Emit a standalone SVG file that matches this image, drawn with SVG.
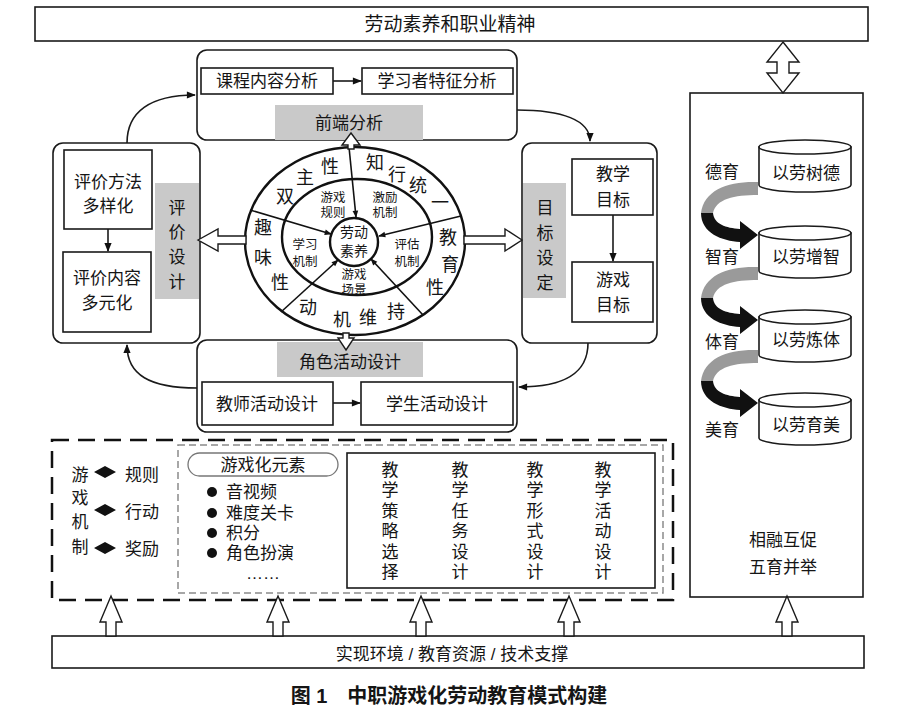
<svg xmlns="http://www.w3.org/2000/svg" width="900" height="713" viewBox="0 0 900 713">
<style>
.t{font-family:"Liberation Sans","Noto Sans CJK SC",sans-serif;font-size:17px;fill:#151515;text-anchor:middle;dominant-baseline:central}
.s{font-size:12.5px}
.r{font-size:18px}
.b{fill:#fff;stroke:#1a1a1a;stroke-width:1.6}
.g{fill:#c9c9c9;stroke:none}
.ln{fill:none;stroke:#1a1a1a;stroke-width:1.6}
.ha{fill:#fff;stroke:#1a1a1a;stroke-width:1.4;stroke-linejoin:miter}
</style>
<defs>
<marker id="ah" viewBox="0 0 10 10" refX="9" refY="5" markerWidth="10" markerHeight="9" markerUnits="userSpaceOnUse" orient="auto"><path d="M0,1 L10,5 L0,9 Z" fill="#111"/></marker>
<marker id="as" viewBox="0 0 10 10" refX="9" refY="5" markerWidth="8" markerHeight="7" markerUnits="userSpaceOnUse" orient="auto"><path d="M0,1 L10,5 L0,9 Z" fill="#111"/></marker>
<g id="curl">
<path d="M758,182 C728,181 704,190 701,213 L713,213 C716,199 734,195 758,195 Z" fill="#9a9a9a"/>
<path d="M701,213 C701,233 722,241 740,242 L740,249 L758,235 L740,221 L740,229 C726,228 714,224 713,213 Z" fill="#111"/>
</g>
</defs>

<g id="top-bar">
<rect class="b" x="35" y="7" width="833" height="34"/>
<text class="t" x="450" y="24" style="font-size:19px">劳动素养和职业精神</text>
</g>

<g id="front-analysis">
<rect class="b" x="197" y="50" width="320" height="90" rx="10"/>
<rect class="b" x="201" y="68" width="132" height="26"/>
<text class="t" x="267" y="81">课程内容分析</text>
<rect class="b" x="362" y="68" width="151" height="26"/>
<text class="t" x="437" y="81">学习者特征分析</text>
<rect class="g" x="275" y="105" width="148" height="35"/>
<text class="t" x="349" y="123">前端分析</text>
</g>

<g id="evaluation">
<rect class="b" x="53" y="143" width="147" height="200" rx="10"/>
<rect class="b" x="64" y="150" width="88" height="79"/>
<text class="t" x="108" y="182">评价方法</text>
<text class="t" x="108" y="206">多样化</text>
<rect class="b" x="63" y="252" width="88" height="80"/>
<text class="t" x="107" y="278">评价内容</text>
<text class="t" x="107" y="303">多元化</text>
<rect class="g" x="155" y="183" width="44" height="116"/>
<text class="t" x="177" y="208">评</text>
<text class="t" x="177" y="232">价</text>
<text class="t" x="177" y="257">设</text>
<text class="t" x="177" y="282">计</text>
</g>

<g id="goal">
<rect class="b" x="522" y="143" width="135" height="200" rx="10"/>
<rect class="g" x="523" y="183" width="43" height="115"/>
<text class="t" x="545" y="208">目</text>
<text class="t" x="545" y="233">标</text>
<text class="t" x="545" y="258">设</text>
<text class="t" x="545" y="283">定</text>
<rect class="b" x="572" y="159" width="81" height="56"/>
<text class="t" x="613" y="174">教学</text>
<text class="t" x="613" y="200">目标</text>
<rect class="b" x="572" y="262" width="81" height="60"/>
<text class="t" x="613" y="280">游戏</text>
<text class="t" x="613" y="305">目标</text>
</g>

<g id="role-design">
<rect class="b" x="197" y="340" width="320" height="92" rx="10"/>
<rect class="g" x="277" y="342" width="146" height="35"/>
<text class="t" x="350" y="362">角色活动设计</text>
<rect class="b" x="202" y="382" width="131" height="43"/>
<text class="t" x="267" y="404">教师活动设计</text>
<rect class="b" x="361" y="382" width="152" height="43"/>
<text class="t" x="437" y="404">学生活动设计</text>
</g>

<g id="core-ellipse">
<ellipse cx="355" cy="241" rx="110" ry="94" fill="#fff" stroke="#111" stroke-width="2.4"/>
<ellipse cx="357" cy="237" rx="75" ry="58" fill="none" stroke="#111" stroke-width="2.4"/>
<ellipse cx="354" cy="242" rx="24" ry="24" fill="#fff" stroke="#111" stroke-width="2.4"/>
<text class="t" x="354" y="232" style="font-size:14px">劳动</text>
<text class="t" x="354" y="251" style="font-size:14px">素养</text>
<text class="t s" x="333" y="198">游戏</text>
<text class="t s" x="333" y="213">规则</text>
<text class="t s" x="385" y="198">激励</text>
<text class="t s" x="385" y="213">机制</text>
<text class="t s" x="305" y="245">学习</text>
<text class="t s" x="305" y="262">机制</text>
<text class="t s" x="407" y="245">评估</text>
<text class="t s" x="407" y="262">机制</text>
<text class="t s" x="354" y="275">游戏</text>
<text class="t s" x="354" y="290">场景</text>
<text class="t r" x="285" y="197">双</text>
<text class="t r" x="305" y="178">主</text>
<text class="t r" x="330" y="167">性</text>
<text class="t r" x="375" y="163">知</text>
<text class="t r" x="397" y="175">行</text>
<text class="t r" x="418" y="186">统</text>
<text class="t r" x="440" y="203">一</text>
<text class="t r" x="448" y="238">教</text>
<text class="t r" x="450" y="265">育</text>
<text class="t r" x="435" y="288">性</text>
<text class="t r" x="308" y="308">动</text>
<text class="t r" x="342" y="320">机</text>
<text class="t r" x="368" y="318">维</text>
<text class="t r" x="396" y="312">持</text>
<text class="t r" x="263" y="228">趣</text>
<text class="t r" x="263" y="258">味</text>
<text class="t r" x="280" y="283">性</text>
</g>

<g id="mechanism">
<text class="t" x="80" y="475">游</text>
<text class="t" x="80" y="498">戏</text>
<text class="t" x="80" y="522">机</text>
<text class="t" x="80" y="547">制</text>
<path d="M94,472 L105,466 L116,472 L105,478 Z M94,510 L105,504 L116,510 L105,516 Z M94,548 L105,542 L116,548 L105,554 Z" fill="#111"/>
<text class="t" x="142" y="475">规则</text>
<text class="t" x="142" y="512">行动</text>
<text class="t" x="142" y="549">奖励</text>
</g>

<g id="gamify-elements">
<rect x="188" y="453" width="150" height="23" rx="11.5" fill="#fff" stroke="#777" stroke-width="1.3"/>
<text class="t" x="263" y="465">游戏化元素</text>
<g fill="#111"><circle cx="212" cy="492" r="5"/><circle cx="212" cy="513" r="5"/><circle cx="212" cy="533" r="5"/><circle cx="212" cy="553" r="5"/></g>
<text class="t" x="226" y="492" style="text-anchor:start">音视频</text>
<text class="t" x="226" y="513" style="text-anchor:start">难度关卡</text>
<text class="t" x="226" y="533" style="text-anchor:start">积分</text>
<text class="t" x="226" y="553" style="text-anchor:start">角色扮演</text>
<text class="t" x="263" y="573">……</text>
</g>

<g id="teaching-design">
<rect class="b" x="347" y="453" width="308" height="135" stroke-width="2"/>
<text class="t" x="390" y="470">教</text><text class="t" x="390" y="490">学</text><text class="t" x="390" y="511">策</text><text class="t" x="390" y="531">略</text><text class="t" x="390" y="552">选</text><text class="t" x="390" y="572">择</text>
<text class="t" x="460" y="470">教</text><text class="t" x="460" y="490">学</text><text class="t" x="460" y="511">任</text><text class="t" x="460" y="531">务</text><text class="t" x="460" y="552">设</text><text class="t" x="460" y="572">计</text>
<text class="t" x="535" y="470">教</text><text class="t" x="535" y="490">学</text><text class="t" x="535" y="511">形</text><text class="t" x="535" y="531">式</text><text class="t" x="535" y="552">设</text><text class="t" x="535" y="572">计</text>
<text class="t" x="603" y="470">教</text><text class="t" x="603" y="490">学</text><text class="t" x="603" y="511">活</text><text class="t" x="603" y="531">动</text><text class="t" x="603" y="552">设</text><text class="t" x="603" y="572">计</text>
</g>

<g id="dashed-frames">
<rect x="178" y="445" width="485" height="148" fill="none" stroke="#8a8a8a" stroke-width="1.5" stroke-dasharray="7 4"/>
<rect x="52" y="440" width="621" height="160" fill="none" stroke="#111" stroke-width="2.5" stroke-dasharray="17 9"/>
</g>

<g id="five-edu">
<rect class="b" x="690" y="93" width="173" height="504"/>
<g id="cyl1"><path class="b" d="M759,147 L759,185 A46,7 0 0 0 851,185 L851,147 Z"/><ellipse class="b" cx="805" cy="147" rx="46" ry="7"/><text class="t" x="806" y="173">以劳树德</text></g>
<g id="cyl2"><path class="b" d="M759,233 L759,271 A46,7 0 0 0 851,271 L851,233 Z"/><ellipse class="b" cx="805" cy="233" rx="46" ry="7"/><text class="t" x="806" y="257">以劳增智</text></g>
<g id="cyl3"><path class="b" d="M759,317 L759,355 A46,7 0 0 0 851,355 L851,317 Z"/><ellipse class="b" cx="805" cy="317" rx="46" ry="7"/><text class="t" x="806" y="340">以劳炼体</text></g>
<g id="cyl4"><path class="b" d="M759,400 L759,438 A46,7 0 0 0 851,438 L851,400 Z"/><ellipse class="b" cx="805" cy="400" rx="46" ry="7"/><text class="t" x="806" y="425">以劳育美</text></g>
<text class="t" x="722" y="172">德育</text>
<text class="t" x="722" y="257">智育</text>
<text class="t" x="722" y="342">体育</text>
<text class="t" x="722" y="430">美育</text>
<use href="#curl"/>
<use href="#curl" transform="translate(0,85)"/>
<use href="#curl" transform="translate(0,168)"/>
<text class="t" x="783" y="540">相融互促</text>
<text class="t" x="783" y="567">五育并举</text>
</g>

<g id="support-bar">
<rect class="b" x="52" y="636" width="812" height="32"/>
<text class="t" x="452" y="654">实现环境 / 教育资源 / 技术支撑</text>
</g>

<g id="connectors">
<path class="ln" d="M127,143 C127,112 150,95 195,95" marker-end="url(#ah)"/>
<path class="ln" d="M517,110 C562,110 590,120 590,141" marker-end="url(#ah)"/>
<path class="ln" d="M588,343 C588,375 562,387 519,387" marker-end="url(#ah)"/>
<path class="ln" d="M197,388 C150,388 127,375 127,345" marker-end="url(#ah)"/>
<path class="ln" d="M333,81 L361,81" marker-end="url(#ah)"/>
<path class="ln" d="M613,215 L613,261" marker-end="url(#ah)"/>
<path class="ln" d="M108,229 L108,251" marker-end="url(#ah)"/>
<path class="ln" d="M333,403 L360,403" marker-end="url(#ah)"/>
<g stroke="#111" stroke-width="1.6" fill="none">
<path d="M349,147 L356,217" marker-end="url(#as)"/>
<path d="M250,210 L331,234" marker-end="url(#as)"/>
<path d="M461,216 L379,236" marker-end="url(#as)"/>
<path d="M281,312 L338,260" marker-end="url(#as)"/>
<path d="M423,315 L371,259" marker-end="url(#as)"/>
</g>
<polygon class="ha" points="198,240 218,229 218,236 246,236 246,244 218,244 218,251"/>
<polygon class="ha" points="522,240 505,229 505,236 464,236 464,244 505,244 505,251"/>
<polygon class="ha" points="351,133 360,145 354,145 354,149 348,149 348,145 342,145"/>
<polygon class="ha" points="346,350 354,338 349,338 349,333 343,333 343,338 338,338"/>
<polygon class="ha" points="783,42 799,62 789,62 789,73 799,73 783,93 767,73 777,73 777,62 767,62"/>
<polygon class="ha" points="111,596 122,622 116,622 116,636 106,636 106,622 100,622"/>
<polygon class="ha" points="278,596 289,622 283,622 283,636 273,636 273,622 267,622"/>
<polygon class="ha" points="421,596 432,622 426,622 426,636 416,636 416,622 410,622"/>
<polygon class="ha" points="569,596 580,622 574,622 574,636 564,636 564,622 558,622"/>
<polygon class="ha" points="787,596 798,622 792,622 792,636 782,636 782,622 776,622"/>
</g>

<g id="caption">
<text class="t" x="449" y="696" style="font-size:20px;font-weight:bold">图 1　中职游戏化劳动教育模式构建</text>
</g>
</svg>
